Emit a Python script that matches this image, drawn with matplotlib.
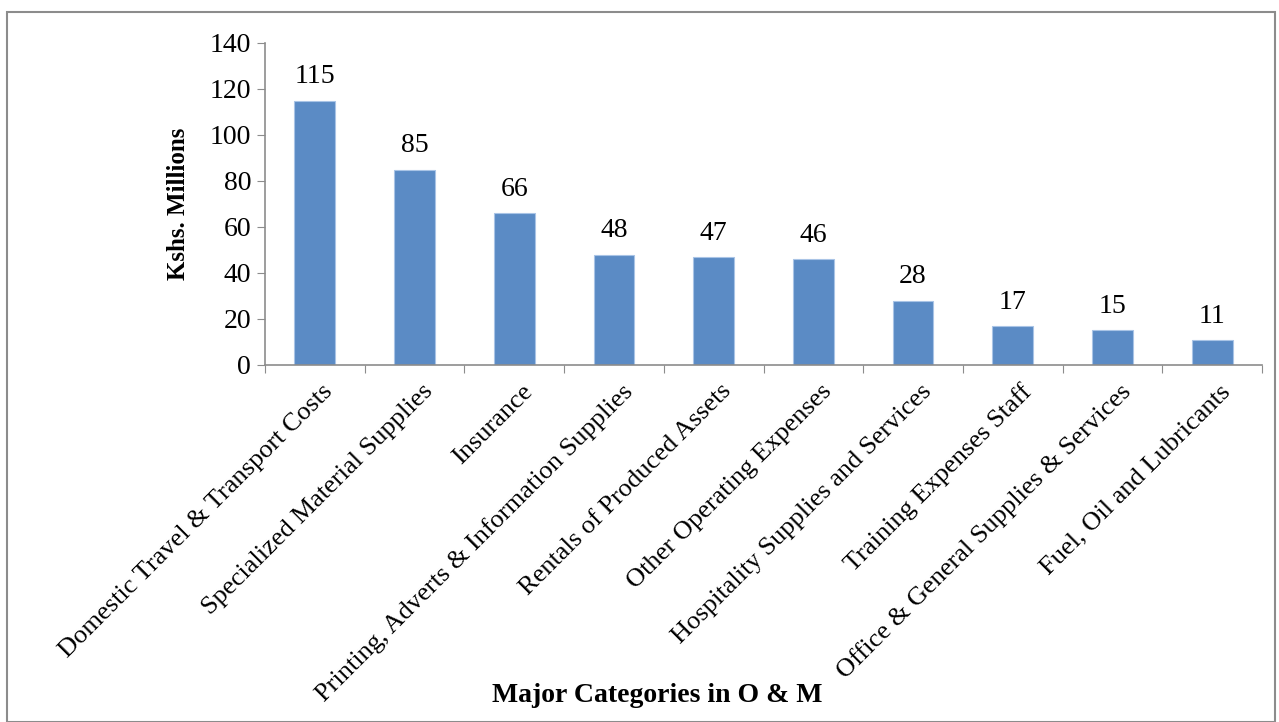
import matplotlib
matplotlib.use("Agg")
import matplotlib.pyplot as plt
import matplotlib.transforms as mtransforms
from matplotlib.patches import Rectangle

categories = ["Domestic Travel & Transport Costs", "Specialized Material Supplies", "Insurance",
              "Printing, Adverts & Information Supplies", "Rentals of Produced Assets",
              "Other Operating Expenses", "Hospitality Supplies and Services",
              "Training Expenses Staff", "Office & General Supplies & Services",
              "Fuel, Oil and Lubricants"]
values = [115, 85, 66, 48, 47, 46, 28, 17, 15, 11]
yticks = [0, 20, 40, 60, 80, 100, 120, 140]

plt.rcParams['font.family'] = ['Liberation Serif', 'DejaVu Serif']

W, H = 1279, 722
fig = plt.figure(figsize=(W/100, H/100), dpi=100)
fig.patches.append(Rectangle((7/W, 0), (1275-7)/W, (H-12)/H, transform=fig.transFigure,
                             fill=False, edgecolor='#8c8c8c', linewidth=1.5))
ax = fig.add_axes([265/W, 1-365/H, (1262-265)/W, (365-43)/H])

x = list(range(len(values)))
ax.bar(x, values, width=0.41, color='#5B8BC5', edgecolor='#a9c4e6', linewidth=0.8, zorder=2)
for xi, v in zip(x, values):
    ax.annotate(str(v), (xi, v), xytext=(0, 8), textcoords='offset points',
                ha='center', va='bottom', fontsize=20)

ax.set_xlim(-0.5, len(values) - 0.5)
ax.set_ylim(0, 140)
ax.set_yticks(yticks)
ax.set_yticklabels([str(t) for t in yticks], fontsize=20)
ax.set_xticks([i - 0.5 for i in range(len(values) + 1)])
ax.set_xticklabels([])
ax.set_xticks(x, minor=True)
ax.set_xticklabels(categories, minor=True, rotation=45, ha='right', rotation_mode='anchor', fontsize=19)
ax.tick_params(axis='x', which='minor', length=0, pad=11)
ax.tick_params(axis='x', which='major', length=6, color='#8c8c8c', direction='out')
ax.tick_params(axis='y', length=6, color='#8c8c8c', direction='out', pad=4)
offset = mtransforms.ScaledTranslation(7/100, 0, fig.dpi_scale_trans)
for lbl in ax.get_xticklabels(minor=True):
    lbl.set_transform(lbl.get_transform() + offset)
for s in ['top', 'right']:
    ax.spines[s].set_visible(False)
for s in ['left', 'bottom']:
    ax.spines[s].set_color('#8c8c8c')
    ax.spines[s].set_linewidth(1.2)

ax.set_ylabel("Kshs. Millions", fontsize=18, fontweight='bold', labelpad=14)
fig.text(657/W, 1-695/H, "Major Categories in O & M", ha='center', va='center',
         fontsize=20, fontweight='bold')

fig.savefig("out.png", dpi=100)
